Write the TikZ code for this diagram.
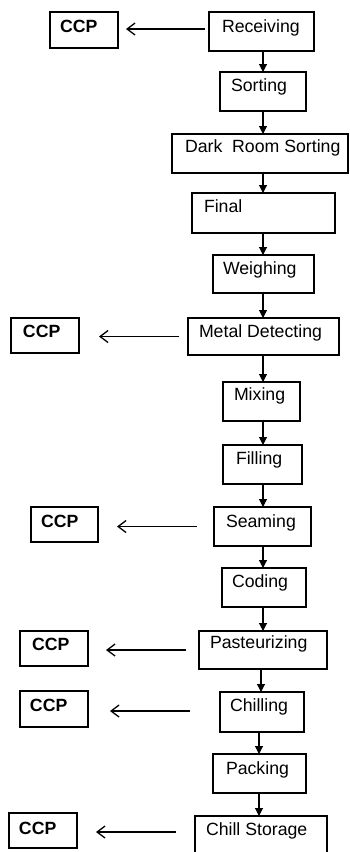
\documentclass[tikz,border=0pt]{standalone}
\usepackage{fontspec}
\setmainfont{Liberation Sans}
\usetikzlibrary{arrows.meta}
\newcommand\bx[5]{\node[box,minimum width={#4-#2},minimum height={#5-#3}] (#1) at ({(#2+#4)/2},{(#3+#5)/2}) {};}
\tikzset{
  box/.style={draw, line width=1.3pt, inner sep=0pt, outer sep=0pt, rectangle},
  lbl/.style={anchor=base west, inner sep=0pt, outer sep=0pt, font=\fontsize{17.7}{20}\selectfont},
  cc/.style={lbl, font=\fontsize{17.7}{20}\selectfont\bfseries},
  down/.style={line width=1.1pt, -{Triangle[length=8pt,width=8pt]}},
  left/.style={line width=1.1pt, -{Straight Barb[length=8pt,width=12pt,line width=1.3pt]}}
}
\begin{document}
\begin{tikzpicture}[x=1pt,y=-1pt]
\useasboundingbox (0,0) rectangle (350,852);
\clip (0,0) rectangle (350,852);
\fill[white] (0,0) rectangle (350,852);
% process boxes
\bx{rec}{209}{12}{314}{51}
\bx{sor}{220}{72}{306}{111}
\bx{drs}{172}{134}{348}{173}
\bx{fin}{192}{193}{335}{233}
\bx{wei}{213}{255}{314}{293}
\bx{met}{188}{318}{339}{355}
\bx{mix}{223}{382}{300}{421}
\bx{fil}{223}{445}{302}{484}
\bx{sea}{214}{507}{311}{546}
\bx{cod}{222}{568}{306}{607}
\bx{pas}{199}{631}{327}{669}
\bx{chi}{220}{692}{304}{732}
\bx{pac}{213}{754}{306}{793}
\bx{cst}{195}{816}{327}{858}
% CCP boxes
\bx{ccpa}{50}{12}{118}{48}
\bx{ccpb}{11}{318}{79}{353}
\bx{ccpc}{31}{507}{98}{542}
\bx{ccpd}{20}{631}{88}{666}
\bx{ccpe}{20}{691}{88}{727}
\bx{ccpf}{9}{813}{77}{848}
% labels
\node[lbl] (recT) at (222,32) {Receiving};
\node[lbl] (sorT) at (231,91) {Sorting};
\node[lbl] (drsT) at (185,152) {Dark\ \ Room Sorting};
\node[lbl] (finT) at (204,212) {Final};
\node[lbl] (weiT) at (223,274) {Weighing};
\node[lbl] (metT) at (199,337) {Metal Detecting};
\node[lbl] (mixT) at (234,400) {Mixing};
\node[lbl] (filT) at (236,464) {Filling};
\node[lbl] (seaT) at (226,527) {Seaming};
\node[lbl] (codT) at (232,587) {Coding};
\node[lbl] (pasT) at (210,648) {Pasteurizing};
\node[lbl] (chiT) at (230,711) {Chilling};
\node[lbl] (pacT) at (226,774) {Packing};
\node[lbl] (cstT) at (206,835) {Chill Storage};
\node[cc] (ccpaT) at (60,32) {CCP};
\node[cc] (ccpbT) at (23,337) {CCP};
\node[cc] (ccpcT) at (41,527) {CCP};
\node[cc] (ccpdT) at (32,650) {CCP};
\node[cc] (ccpeT) at (30,711) {CCP};
\node[cc] (ccpfT) at (19,834) {CCP};
% vertical axes
\coordinate (axA) at (263,0);
\coordinate (axB) at (261,0);
\coordinate (axC) at (259,0);
\draw[down] (rec.south -| axA) -- (sor.north -| axA);
\draw[down] (sor.south -| axA) -- (drs.north -| axA);
\draw[down] (drs.south -| axA) -- (fin.north -| axA);
\draw[down] (fin.south -| axA) -- (wei.north -| axA);
\draw[down] (wei.south -| axA) -- (met.north -| axA);
\draw[down] (met.south -| axA) -- (mix.north -| axA);
\draw[down] (mix.south -| axA) -- (fil.north -| axA);
\draw[down] (fil.south -| axA) -- (sea.north -| axA);
\draw[down] (sea.south -| axA) -- (cod.north -| axA);
\draw[down] (cod.south -| axA) -- (pas.north -| axA);
\draw[down] (pas.south -| axB) -- (chi.north -| axB);
\draw[down] (chi.south -| axC) -- (pac.north -| axC);
\draw[down] (pac.south -| axC) -- (cst.north -| axC);
% horizontal arrows to CCP
\draw[left, shorten <=4pt, shorten >=8pt] ([yshift=2.5pt]rec.west) -- ([yshift=2.5pt]rec.west -| ccpa.east);
\draw[left, shorten <=9pt, shorten >=20pt] (met.west) -- (met.west -| ccpb.east);
\draw[left, shorten <=17pt, shorten >=19pt] (sea.west) -- (sea.west -| ccpc.east);
\draw[left, shorten <=13pt, shorten >=18pt] (pas.west) -- (pas.west -| ccpd.east);
\draw[left, shorten <=30pt, shorten >=22pt] ([yshift=1pt]chi.west) -- ([yshift=1pt]chi.west -| ccpe.east);
\draw[left, shorten <=19pt, shorten >=19pt] ([yshift=5pt]cst.west) -- ([yshift=5pt]cst.west -| ccpf.east);
\end{tikzpicture}
\end{document}
